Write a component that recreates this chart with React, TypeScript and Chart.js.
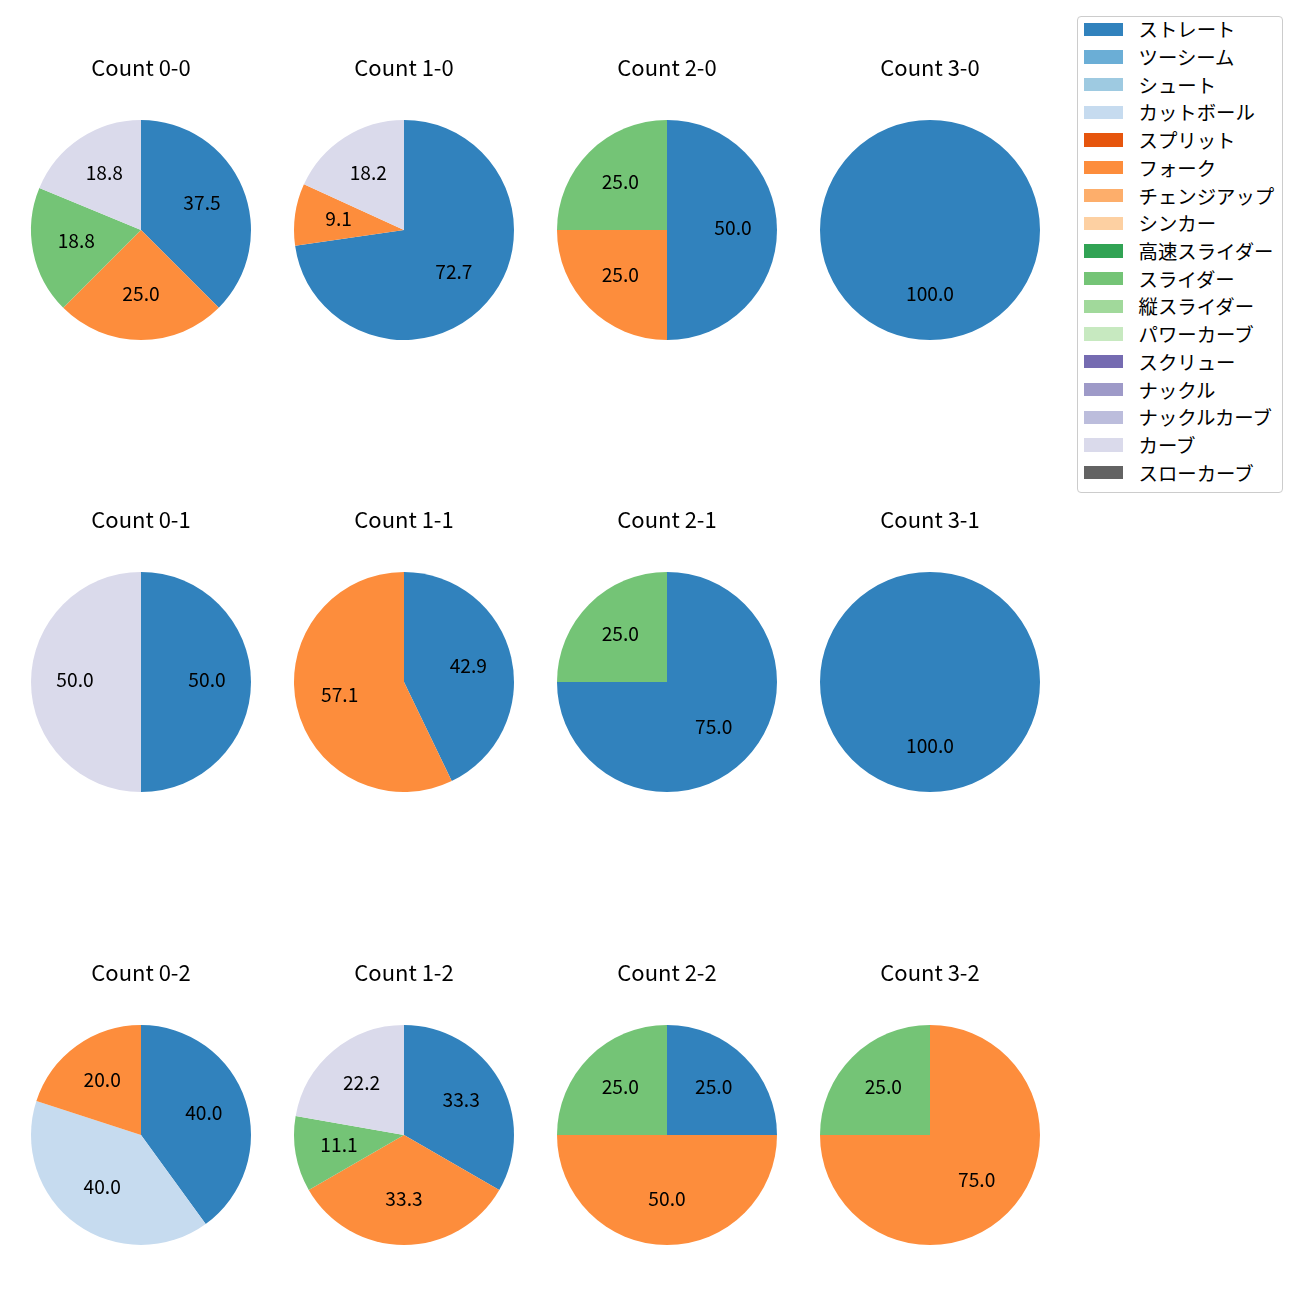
import React, { useEffect, useRef } from "react";
import { Chart, registerables } from "chart.js";

Chart.register(...registerables);

const pitchTypes = [
  "ストレート",
  "ツーシーム",
  "シュート",
  "カットボール",
  "スプリット",
  "フォーク",
  "チェンジアップ",
  "シンカー",
  "高速スライダー",
  "スライダー",
  "縦スライダー",
  "パワーカーブ",
  "スクリュー",
  "ナックル",
  "ナックルカーブ",
  "カーブ",
  "スローカーブ",
];

const pitchColors = [
  "#3182bd",
  "#6baed6",
  "#9ecae1",
  "#c6dbef",
  "#e6550d",
  "#fd8d3c",
  "#fdae6b",
  "#fdd0a2",
  "#31a354",
  "#74c476",
  "#a1d99b",
  "#c7e9c0",
  "#756bb1",
  "#9e9ac8",
  "#bcbddc",
  "#dadaeb",
  "#636363",
];

const countTitles = [
  "Count 0-0", "Count 1-0", "Count 2-0", "Count 3-0",
  "Count 0-1", "Count 1-1", "Count 2-1", "Count 3-1",
  "Count 0-2", "Count 1-2", "Count 2-2", "Count 3-2",
];

// pitch counts, in the order of pitchTypes
const count00 = [6, 0, 0, 0, 0, 4, 0, 0, 0, 3, 0, 0, 0, 0, 0, 3, 0];
const count10 = [8, 0, 0, 0, 0, 1, 0, 0, 0, 0, 0, 0, 0, 0, 0, 2, 0];
const count20 = [2, 0, 0, 0, 0, 1, 0, 0, 0, 1, 0, 0, 0, 0, 0, 0, 0];
const count30 = [1, 0, 0, 0, 0, 0, 0, 0, 0, 0, 0, 0, 0, 0, 0, 0, 0];
const count01 = [1, 0, 0, 0, 0, 0, 0, 0, 0, 0, 0, 0, 0, 0, 0, 1, 0];
const count11 = [3, 0, 0, 0, 0, 4, 0, 0, 0, 0, 0, 0, 0, 0, 0, 0, 0];
const count21 = [3, 0, 0, 0, 0, 0, 0, 0, 0, 1, 0, 0, 0, 0, 0, 0, 0];
const count31 = [1, 0, 0, 0, 0, 0, 0, 0, 0, 0, 0, 0, 0, 0, 0, 0, 0];
const count02 = [2, 0, 0, 2, 0, 1, 0, 0, 0, 0, 0, 0, 0, 0, 0, 0, 0];
const count12 = [3, 0, 0, 0, 0, 3, 0, 0, 0, 1, 0, 0, 0, 0, 0, 2, 0];
const count22 = [1, 0, 0, 0, 0, 2, 0, 0, 0, 1, 0, 0, 0, 0, 0, 0, 0];
const count32 = [0, 0, 0, 0, 0, 3, 0, 0, 0, 1, 0, 0, 0, 0, 0, 0, 0];

const countData = [
  count00, count10, count20, count30,
  count01, count11, count21, count31,
  count02, count12, count22, count32,
];

const FONT = '"Noto Sans CJK JP", "Noto Sans", sans-serif';
const TITLE_SIZE = 22;
const LABEL_SIZE = 19.2;
const LEGEND_SIZE = 19.4;

const colCenters = [141, 404, 667, 930];
const rowCenters = [229.5, 682, 1134.5];
const R = 110;
const PAD_TOP = 80;
const CW = 250;
const CH = PAD_TOP + 2 * R;

const pieLabelPlugin = {
  id: "pieLabels",
  afterDatasetsDraw(chart: any) {
    const ctx = chart.ctx;
    const meta = chart.getDatasetMeta(0);
    const data = chart.data.datasets[0].data as number[];
    const total = data.reduce((a: number, b: number) => a + b, 0);
    ctx.save();
    ctx.font = `${LABEL_SIZE}px ${FONT}`;
    ctx.fillStyle = "#000000";
    ctx.textAlign = "center";
    ctx.textBaseline = "middle";
    meta.data.forEach((arc: any, i: number) => {
      const v = data[i];
      if (!v) return;
      const p = arc.getProps(["x", "y", "startAngle", "endAngle", "outerRadius"], true);
      const mid = (p.startAngle + p.endAngle) / 2;
      const d = p.outerRadius * 0.6;
      const x = p.x + Math.cos(mid) * d;
      const y = p.y + Math.sin(mid) * d;
      ctx.fillText(((v / total) * 100).toFixed(1), x, y - 2);
    });
    ctx.restore();
  },
};

const titlePlugin = {
  id: "pieTitle",
  afterDraw(chart: any) {
    const ctx = chart.ctx;
    const t = chart.options.plugins.pieTitle?.text || "";
    const area = chart.chartArea;
    ctx.save();
    ctx.font = `${TITLE_SIZE}px ${FONT}`;
    ctx.fillStyle = "#000000";
    ctx.textAlign = "center";
    ctx.textBaseline = "middle";
    ctx.fillText(t, (area.left + area.right) / 2, area.top - 52.5);
    ctx.restore();
  },
};

function PieChart({ title, values, cx, cy }: { title: string; values: number[]; cx: number; cy: number }) {
  const ref = useRef<HTMLCanvasElement | null>(null);
  useEffect(() => {
    if (!ref.current) return;
    const chart = new Chart(ref.current, {
      type: "pie",
      data: {
        labels: pitchTypes,
        datasets: [
          {
            data: values,
            backgroundColor: pitchColors,
            borderWidth: 0,
            hoverOffset: 0,
            offset: 0,
          },
        ],
      },
      options: {
        responsive: false,
        animation: false,
        devicePixelRatio: 1,
        layout: { padding: { top: PAD_TOP, left: 0, right: 0, bottom: 0 } },
        plugins: {
          legend: { display: false },
          tooltip: { enabled: false },
          title: { display: false },
          // @ts-ignore
          pieTitle: { text: title },
        },
        events: [],
      } as any,
      plugins: [pieLabelPlugin, titlePlugin],
    });
    return () => chart.destroy();
  }, [title, values]);
  return (
    <canvas
      ref={ref}
      width={CW}
      height={CH}
      style={{ position: "absolute", left: cx - CW / 2, top: cy - R - PAD_TOP, width: CW, height: CH }}
    />
  );
}

export default function App() {
  const legendTop = 29.3;
  const pitch = 27.71;
  return (
    <div style={{ position: "absolute", left: 0, top: 0, width: 1300, height: 1300, background: "#ffffff" }}>
      {countTitles.map((t, i) => (
        <PieChart
          key={t}
          title={t}
          values={countData[i]}
          cx={colCenters[i % 4]}
          cy={rowCenters[Math.floor(i / 4)]}
        />
      ))}
      <div
        style={{
          position: "absolute",
          left: 1077,
          top: 15.5,
          width: 206,
          height: 477,
          boxSizing: "border-box",
          border: "1px solid #cccccc",
          borderRadius: 4,
          background: "rgba(255,255,255,0.8)",
        }}
      />
      {pitchTypes.map((name, i) => {
        const c = legendTop + pitch * i;
        return (
          <React.Fragment key={name}>
            <div
              style={{
                position: "absolute",
                left: 1084,
                top: c - 6.65,
                width: 38.7,
                height: 13.3,
                background: pitchColors[i],
              }}
            />
            <div
              style={{
                position: "absolute",
                left: 1138.5,
                top: c - 15,
                height: 30,
                lineHeight: "30px",
                fontSize: LEGEND_SIZE,
                fontFamily: FONT,
                color: "#000000",
                whiteSpace: "nowrap",
              }}
            >
              {name}
            </div>
          </React.Fragment>
        );
      })}
    </div>
  );
}
